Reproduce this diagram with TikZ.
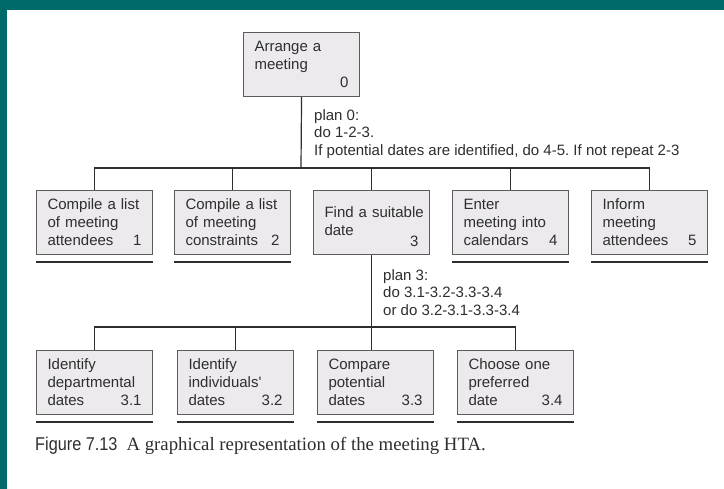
\documentclass[tikz,border=0pt]{standalone}
\usepackage{fontspec}
\newfontfamily\htasans{Liberation Sans}
\newfontfamily\capserif{Liberation Serif}
\newfontfamily\capfig[FakeStretch=0.88]{Liberation Sans}
\definecolor{frame}{HTML}{006A6A}
\definecolor{boxfill}{HTML}{EDEAEE}
\definecolor{boxline}{HTML}{5C5A5C}
\definecolor{ink}{HTML}{2E2E2E}
\frenchspacing

\begin{document}
\begin{tikzpicture}[x=1pt, y=-1pt,
  task/.style={draw=boxline, line width=1.1pt, fill=boxfill, anchor=north west,
    text width=94pt, inner xsep=11pt, minimum height=64pt, align=left,
    text=ink, font=\htasans\fontsize{15}{18}\selectfont},
  plan/.style={anchor=north west, inner sep=0pt, align=left, text=ink,
    font=\htasans\fontsize{15}{17.5}\selectfont},
  link/.style={draw=ink, line width=1.2pt},
  underline/.style={draw=ink, line width=1.8pt}]
% Page and frame
\useasboundingbox (0,0) rectangle (724,489);
\fill [white] (0,0) rectangle (724,489);
\fill [frame] (0,0) rectangle (724,10);
\fill [frame] (0,0) rectangle (7,489);

% Draw the top task
\node [task] (task-0) at (243,32) {Arrange a\\meeting\\\hfill 0};

% Draw the subtasks
\foreach \n/\x/\txt in {1/36/{Compile a list\\of meeting\\attendees\hfill 1},
                        2/174/{Compile a list\\of meeting\\constraints\hfill 2},
                        3/313/{\rule{0pt}{20pt}\mbox{Find a suitable}\\date\\[-7pt]\hfill 3},
                        4/452/{Enter\\meeting into\\calendars\hfill 4},
                        5/591/{Inform\\meeting\\attendees\hfill 5}}
  \node [task] (task-\n) at (\x,190) {\txt};

% Draw the sub-subtasks of task 3
\foreach \n/\x/\txt in {1/36/{Identify\\departmental\\dates\hfill 3.1},
                        2/177/{Identify\\individuals'\\dates\hfill 3.2},
                        3/317/{Compare\\potential\\dates\hfill 3.3},
                        4/457/{Choose one\\preferred\\date\hfill 3.4}}
  \node [task] (sub-\n) at (\x,350) {\txt};

% Underline the bottom-level tasks
\foreach \b in {task-1,task-2,task-4,task-5,sub-1,sub-2,sub-3,sub-4}
  \draw [underline] ([yshift=-7pt]\b.south west) -- ([yshift=-7pt]\b.south east);

% Connect task 0 with its subtasks
\coordinate (bus-0) at (301,168);
\draw [link] (task-0.south) -- (bus-0);
\draw [link] (task-1.north) |- (bus-0) -| (task-5.north);
\foreach \n in {2,3,4}
  \draw [link] (task-\n.north) -- (task-\n.north |- bus-0);

% Connect task 3 with its subtasks
\coordinate (bus-3) at (371,327);
\draw [link] (task-3.south) -- (task-3.south |- sub-3.north);
\draw [link] (sub-1.north) |- (bus-3) -| (sub-4.north);
\draw [link] (sub-2.north) -- (sub-2.north |- bus-3);

% Plans
\node [plan] (plan-0) at (314,109)
  {plan 0:\\do 1-2-3.\\If potential dates are identified, do 4-5. If not repeat 2-3};
\node [plan] (plan-3) at (383,269)
  {plan 3:\\do 3.1-3.2-3.3-3.4\\or do 3.2-3.1-3.3-3.4};

% Caption
\node [anchor=base west, inner sep=0pt, text=ink] (caption) at (35,450)
  {{\capfig\fontsize{18.5}{20}\selectfont Figure 7.13}\hspace{9pt}%
   {\capserif\fontsize{18.8}{20}\selectfont A graphical representation of the meeting HTA.}};
\end{tikzpicture}
\end{document}
